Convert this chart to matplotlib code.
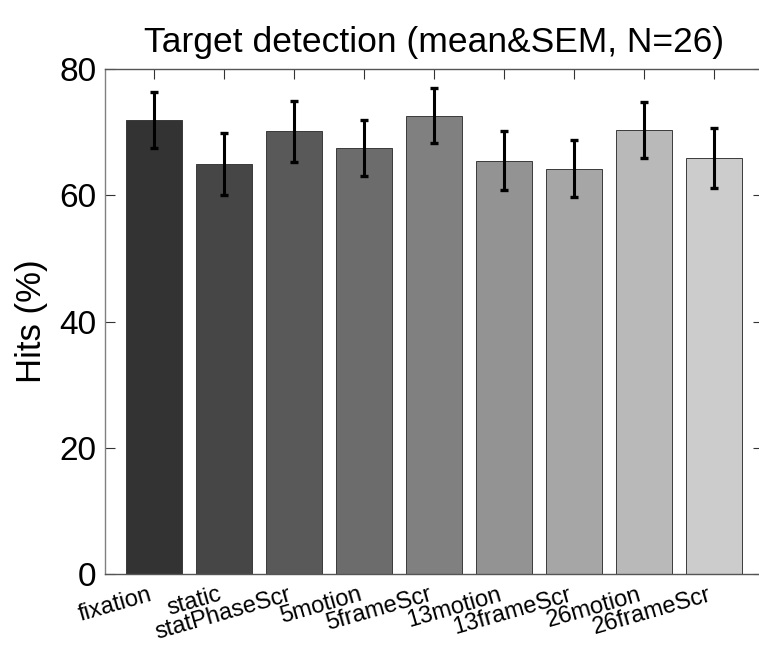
import matplotlib
matplotlib.use("Agg")
import matplotlib.pyplot as plt
import numpy as np

plt.rcParams["font.family"] = ["Liberation Sans", "DejaVu Sans"]

conditions = ["fixation", "static", "statPhaseScr", "5motion", "5frameScr",
              "13motion", "13frameScr", "26motion", "26frameScr"]
hits_mean = [71.9, 64.9, 70.1, 67.5, 72.6, 65.5, 64.2, 70.3, 65.9]
hits_sem = [4.4, 4.9, 4.8, 4.4, 4.4, 4.7, 4.5, 4.4, 4.7]
bar_grays = [0.2, 0.275, 0.35, 0.425, 0.5, 0.575, 0.65, 0.725, 0.8]

fig = plt.figure(figsize=(7.59, 6.46), dpi=100)
ax = fig.add_axes([104.7 / 759, 72 / 646, 658.3 / 759, 505 / 646])

x = np.arange(1, len(conditions) + 1)
ax.bar(x, hits_mean, width=0.8, color=[str(g) for g in bar_grays],
       edgecolor="#3a3a3a", linewidth=0.7, zorder=2)
ax.errorbar(x, hits_mean, yerr=hits_sem, fmt="none", ecolor="black",
            elinewidth=2.2, capsize=2.8, capthick=2.4, zorder=3)

ax.set_xlim(0.296, 9.704)
ax.set_ylim(0, 80)
ax.set_yticks([0, 20, 40, 60, 80])
ax.set_xticks(x)
ax.set_xticklabels(conditions, rotation=16, ha="right", va="top", fontsize=17)

ax.tick_params(axis="y", direction="in", length=7, width=0.8, labelsize=24,
               pad=6, right=True, color="#333333")
ax.tick_params(axis="x", direction="in", length=7, width=0.8, pad=7,
               top=True, color="#333333")
for side in ["left", "bottom", "top", "right"]:
    ax.spines[side].set_color("#555555")
    ax.spines[side].set_linewidth(1.0)
ax.spines["left"].set_color("#808080")

ax.set_ylabel("Hits (%)", fontsize=25, labelpad=8)
ax.set_title("Target detection (mean&SEM, N=26)", fontsize=25.5, pad=12)

fig.savefig("out.png", dpi=100)
